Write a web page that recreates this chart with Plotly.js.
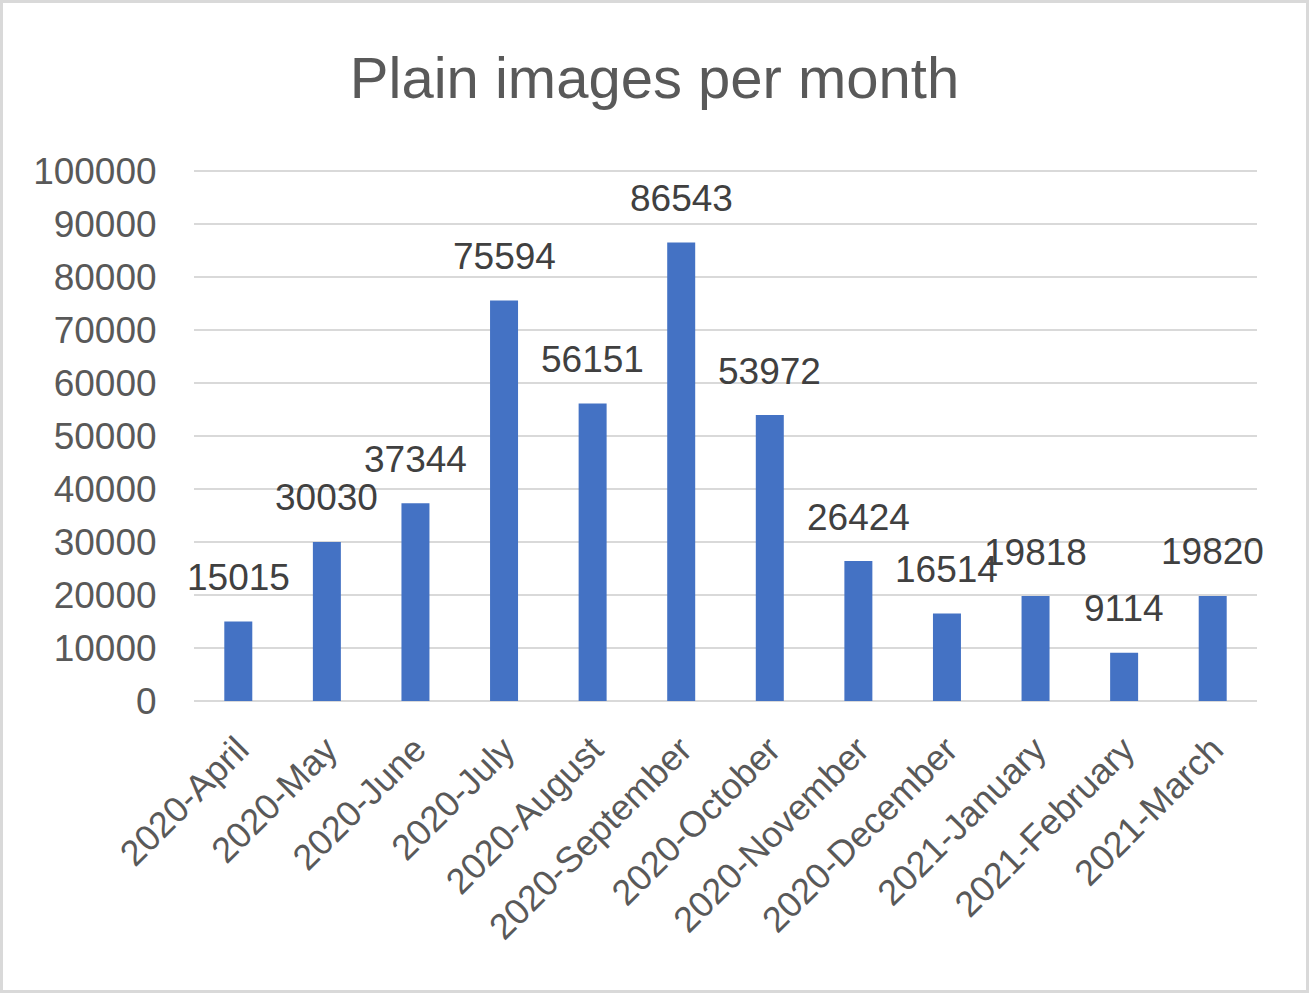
<!DOCTYPE html>
<html>
<head>
<meta charset="utf-8">
<script src="https://cdn.plot.ly/plotly-3.0.1.min.js"></script>
<style>
html,body{margin:0;padding:0;background:#fff;}
#wrap{position:relative;width:1309px;height:993px;}
#chart{position:absolute;left:0;top:0;width:1309px;height:993px;}
#frame{position:absolute;left:0;top:0;width:1309px;height:993px;box-sizing:border-box;border:3px solid #d9d9d9;pointer-events:none;}
</style>
</head>
<body>
<div id="wrap"><div id="chart"></div><div id="frame"></div></div>
<script>
const months = ["2020-April","2020-May","2020-June","2020-July","2020-August","2020-September","2020-October","2020-November","2020-December","2021-January","2021-February","2021-March"];
const images = [15015,30030,37344,75594,56151,86543,53972,26424,16514,19818,9114,19820];
const yTicks = [0,10000,20000,30000,40000,50000,60000,70000,80000,90000,100000];

const FONT = "Liberation Sans, Arial, sans-serif";
const TXT = "#595959";

const trace = {
  type: "bar",
  x: months,
  y: images,
  marker: {color: "#4472C4"},
  hoverinfo: "x+y"
};

const annotations = months.map((m, i) => ({
  x: m, y: images[i], xref: "x", yref: "y",
  text: String(images[i]),
  showarrow: false,
  yanchor: "middle",
  yshift: 44,
  font: {family: FONT, size: 37, color: "#404040"}
}));

const layout = {
  width: 1309, height: 993,
  margin: {l: 194, r: 52, t: 168, b: 292, pad: 0, autoexpand: false},
  paper_bgcolor: "#fff", plot_bgcolor: "#fff",
  showlegend: false,
  bargap: 0.684,
  title: {text: "Plain images per month", x: 0.5, xref: "container", y: 0.922, yref: "container", yanchor: "middle", xanchor: "center",
          font: {family: FONT, size: 58, color: TXT}},
  xaxis: {
    type: "category",
    range: [-0.5, months.length - 0.5],
    autorange: false,
    tickangle: -45,
    tickfont: {family: FONT, size: 36, color: TXT},
    ticks: "outside", ticklen: 12, tickcolor: "rgba(0,0,0,0)",
    showgrid: false, showline: false, zeroline: false
  },
  yaxis: {
    range: [0, 100600],
    autorange: false,
    tickvals: yTicks,
    ticktext: yTicks.map(String),
    tickfont: {family: FONT, size: 37, color: TXT},
    ticks: "outside", ticklen: 29, tickcolor: "rgba(0,0,0,0)",
    showgrid: true, gridcolor: "#d9d9d9", gridwidth: 2,
    zeroline: true, zerolinecolor: "#d9d9d9", zerolinewidth: 2,
    showline: false
  },
  annotations: annotations
};

Plotly.newPlot("chart", [trace], layout, {displayModeBar: false, staticPlot: true});
</script>
</body>
</html>
